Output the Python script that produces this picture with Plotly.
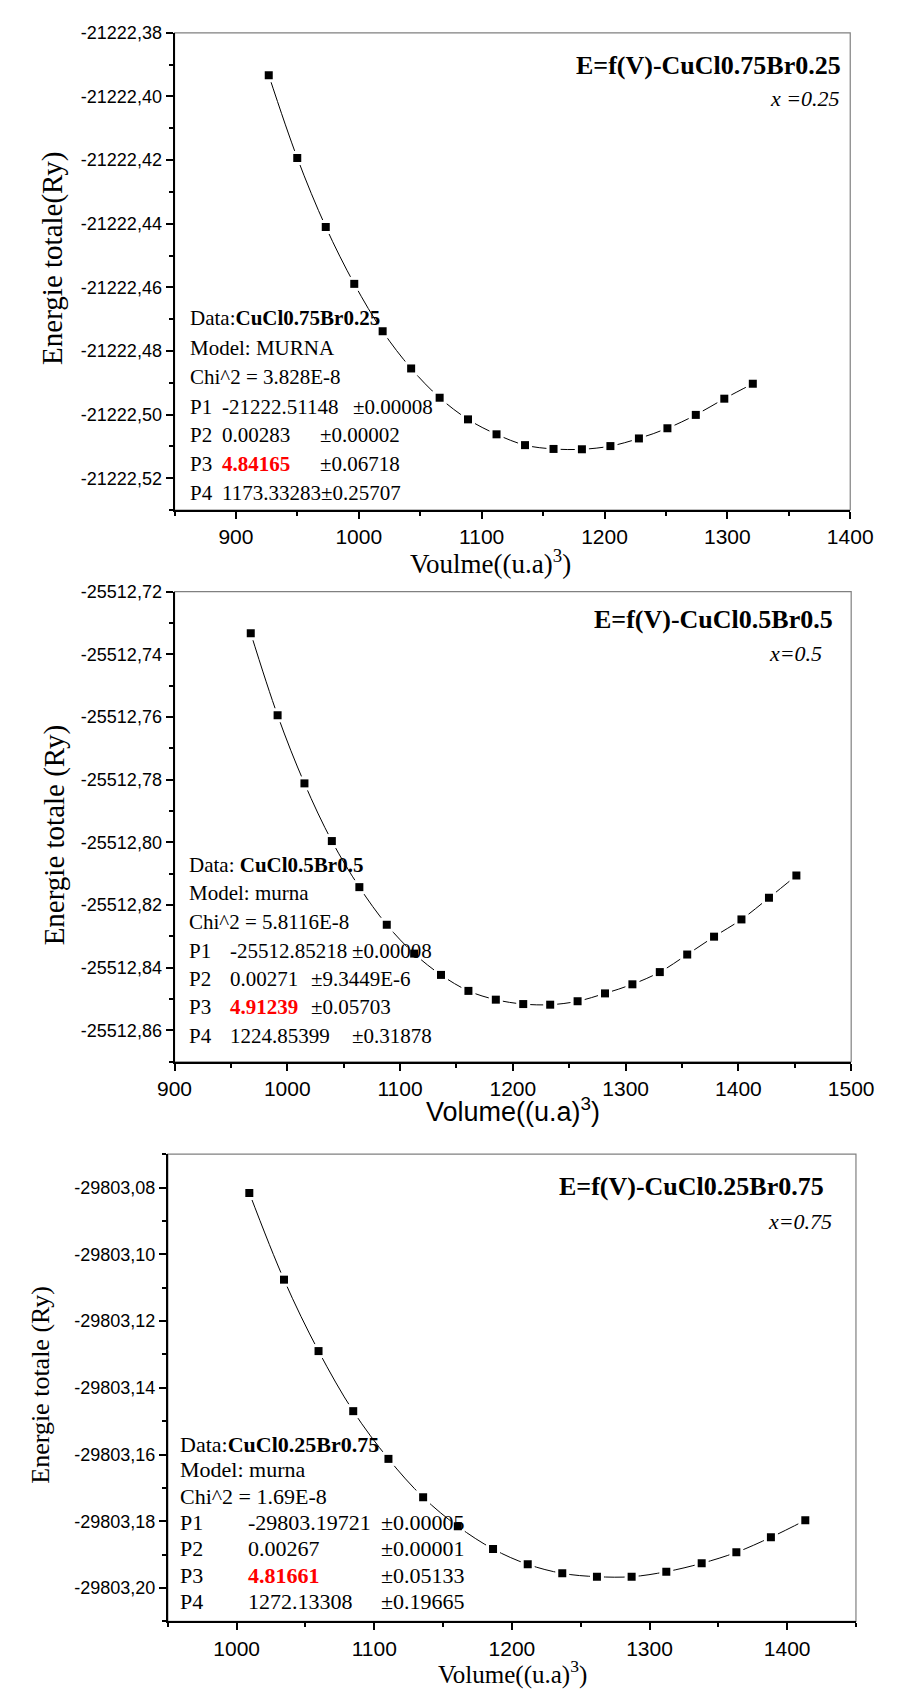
import plotly.graph_objects as go

# ---------------- data ----------------
vol_025 = [926.7, 949.9, 973.1, 996.3, 1019.4, 1042.6, 1065.8, 1088.9, 1112.1, 1135.3,
           1158.5, 1181.6, 1204.8, 1228.0, 1251.2, 1274.3, 1297.5, 1320.7]
E_025 = [-21222.3933, -21222.4193, -21222.4410, -21222.4589, -21222.4738, -21222.4855,
         -21222.4947, -21222.5015, -21222.5062, -21222.5096, -21222.5108, -21222.5109,
         -21222.5099, -21222.5075, -21222.5043, -21222.5001, -21222.4950, -21222.4903]

vol_05 = [967.6, 991.4, 1015.2, 1039.5, 1063.9, 1088.2, 1112.5, 1136.3, 1160.6, 1184.9,
          1209.2, 1233.1, 1257.4, 1281.7, 1306.0, 1330.3, 1354.6, 1378.4, 1402.7, 1427.1, 1451.4]
E_05 = [-25512.7333, -25512.7595, -25512.7812, -25512.7996, -25512.8143, -25512.8263,
        -25512.8355, -25512.8423, -25512.8474, -25512.8502, -25512.8516, -25512.8518,
        -25512.8507, -25512.8482, -25512.8453, -25512.8414, -25512.8358, -25512.8301,
        -25512.8246, -25512.8177, -25512.8106]

vol_075 = [1009.2, 1034.4, 1059.5, 1084.7, 1110.3, 1135.5, 1160.7, 1186.3, 1211.5, 1236.6,
           1261.8, 1287.0, 1312.2, 1337.9, 1363.1, 1388.2, 1413.2]
E_075 = [-29803.0816, -29803.1076, -29803.1290, -29803.1470, -29803.1613, -29803.1728,
         -29803.1815, -29803.1883, -29803.1929, -29803.1956, -29803.1966, -29803.1966,
         -29803.1951, -29803.1926, -29803.1893, -29803.1848, -29803.1797]

# tick values / labels
xt_025 = [900, 1000, 1100, 1200, 1300, 1400]
xm_025 = [850, 950, 1050, 1150, 1250, 1350]
yt_025 = [-21222.38, -21222.40, -21222.42, -21222.44, -21222.46, -21222.48, -21222.50, -21222.52]
ym_025 = [-21222.39, -21222.41, -21222.43, -21222.45, -21222.47, -21222.49, -21222.51, -21222.53]
yl_025 = ["-21222,38", "-21222,40", "-21222,42", "-21222,44", "-21222,46", "-21222,48", "-21222,50", "-21222,52"]

xt_05 = [900, 1000, 1100, 1200, 1300, 1400, 1500]
xm_05 = [950, 1050, 1150, 1250, 1350, 1450]
yt_05 = [-25512.72, -25512.74, -25512.76, -25512.78, -25512.80, -25512.82, -25512.84, -25512.86]
ym_05 = [-25512.73, -25512.75, -25512.77, -25512.79, -25512.81, -25512.83, -25512.85, -25512.87]
yl_05 = ["-25512,72", "-25512,74", "-25512,76", "-25512,78", "-25512,80", "-25512,82", "-25512,84", "-25512,86"]

xt_075 = [1000, 1100, 1200, 1300, 1400]
xm_075 = [950, 1050, 1150, 1250, 1350, 1450]
yt_075 = [-29803.08, -29803.10, -29803.12, -29803.14, -29803.16, -29803.18, -29803.20]
ym_075 = [-29803.07, -29803.09, -29803.11, -29803.13, -29803.15, -29803.17, -29803.19, -29803.21]
yl_075 = ["-29803,08", "-29803,10", "-29803,12", "-29803,14", "-29803,16", "-29803,18", "-29803,20"]

W, H = 899, 1689
def px(x):
    return x / W
def py(y):
    return 1 - y / H

SANS = "Liberation Sans, Arial, sans-serif"
SERIF = "Liberation Serif, Times New Roman, serif"

fig = go.Figure()

panels = [
    dict(vol=vol_025, E=E_025, xa="x", ya="y"),
    dict(vol=vol_05, E=E_05, xa="x2", ya="y2"),
    dict(vol=vol_075, E=E_075, xa="x3", ya="y3"),
]
for p in panels:
    fig.add_trace(go.Scatter(x=p["vol"], y=p["E"], mode="lines",
                             line=dict(color="black", width=1, shape="spline"),
                             xaxis=p["xa"], yaxis=p["ya"], showlegend=False, hoverinfo="skip"))
    fig.add_trace(go.Scatter(x=p["vol"], y=p["E"], mode="markers",
                             marker=dict(symbol="square", size=14, color="white"),
                             xaxis=p["xa"], yaxis=p["ya"], showlegend=False, hoverinfo="skip"))
    fig.add_trace(go.Scatter(x=p["vol"], y=p["E"], mode="markers",
                             marker=dict(symbol="square", size=8, color="black"),
                             xaxis=p["xa"], yaxis=p["ya"], showlegend=False))

def xaxis(domain, rng, tv, mv, anchor):
    return dict(domain=domain, range=rng, anchor=anchor, tickmode="array", tickvals=tv,
                ticktext=[str(v) for v in tv], ticks="outside", ticklen=7, tickwidth=1.5,
                tickcolor="black", showline=True, linecolor="black", linewidth=2,
                showgrid=False, zeroline=False,
                tickfont=dict(family=SANS, size=21, color="black"),
                minor=dict(tickmode="array", tickvals=mv, ticks="outside", ticklen=4,
                           tickwidth=1.5, tickcolor="black", showgrid=False))

def yaxis(domain, rng, tv, tl, mv, anchor):
    return dict(domain=domain, range=rng, anchor=anchor, tickmode="array", tickvals=tv,
                ticktext=tl, ticks="outside", ticklen=7, tickwidth=1.5,
                tickcolor="black", showline=True, linecolor="black", linewidth=2,
                showgrid=False, zeroline=False,
                tickfont=dict(family=SANS, size=18, color="black"),
                minor=dict(tickmode="array", tickvals=mv, ticks="outside", ticklen=4,
                           tickwidth=1.5, tickcolor="black", showgrid=False))

d1x = [px(164), px(872)]; d1y = [py(503), py(23)]
d2x = [px(164), px(873)]; d2y = [py(1058), py(585)]
d3x = [px(157), px(878)]; d3y = [py(1621), py(1151)]

fig.update_layout(
    width=W, height=H, margin=dict(l=0, r=0, t=0, b=0),
    paper_bgcolor="white", plot_bgcolor="white", showlegend=False,
    xaxis=xaxis(d1x, [850, 1400], xt_025, xm_025, "y"),
    yaxis=yaxis(d1y, [-21222.53, -21222.38], yt_025, yl_025, ym_025, "x"),
    xaxis2=xaxis(d2x, [900, 1500], xt_05, xm_05, "y2"),
    yaxis2=yaxis(d2y, [-25512.87, -25512.72], yt_05, yl_05, ym_05, "x2"),
    xaxis3=xaxis(d3x, [950, 1450], xt_075, xm_075, "y3"),
    yaxis3=yaxis(d3y, [-29803.21, -29803.07], yt_075, yl_075, ym_075, "x3"),
)

# grey frame (top/right)
for xr, yr in [("x", "y"), ("x2", "y2"), ("x3", "y3")]:
    fig.add_shape(type="rect", xref=xr + " domain", yref=yr + " domain", x0=0, x1=1, y0=0, y1=1,
                  line=dict(color="#808080", width=1.2), layer="below")

ann = []
def A(text, x, y, size=21, family=SERIF, xanchor="left", yanchor="middle", angle=0):
    ann.append(dict(text=text, x=px(x), y=py(y), xref="paper", yref="paper", showarrow=False,
                    xanchor=xanchor, yanchor=yanchor, textangle=angle,
                    font=dict(family=family, size=size, color="black")))

RED = "<span style='color:#ff0000'><b>%s</b></span>"

# ---- panel 1 ----
A("<b>E=f(V)-CuCl0.75Br0.25</b>", 864, 56, size=26, xanchor="right")
A("<i>x =0.25</i>", 863, 89, size=22, xanchor="right")
A("Energie totale(Ry)", 36, 250, size=29, xanchor="center", angle=-90)
A("Voulme((u.a)<sup>3</sup>)", 495, 555, size=27, xanchor="center")
r1 = [310, 340, 369, 399, 428, 457, 486]
A("Data:<b>CuCl0.75Br0.25</b>", 178, r1[0])
A("Model: MURNA", 178, r1[1])
A("Chi^2 = 3.828E-8", 178, r1[2])
A("P1", 178, r1[3]); A("-21222.51148", 212, r1[3]); A("±0.00008", 349, r1[3])
A("P2", 178, r1[4]); A("0.00283", 212, r1[4]); A("±0.00002", 314, r1[4])
A("P3", 178, r1[5]); A(RED % "4.84165", 212, r1[5]); A("±0.06718", 314, r1[5])
A("P4", 178, r1[6]); A("1173.33283±0.25707", 212, r1[6])

# ---- panel 2 ----
A("<b>E=f(V)-CuCl0.5Br0.5</b>", 856, 613, size=26, xanchor="right")
A("<i>x=0.5</i>", 844, 647, size=22, xanchor="right")
A("Energie totale (Ry)", 38, 830, size=29, xanchor="center", angle=-90)
A("Volume((u.a)<sup>3</sup>)", 519, 1107, size=27, family=SANS, xanchor="center")
r2 = [860, 888, 917, 947, 975, 1003, 1032]
A("Data: <b>CuCl0.5Br0.5</b>", 177, r2[0])
A("Model: murna", 177, r2[1])
A("Chi^2 = 5.8116E-8", 177, r2[2])
A("P1", 177, r2[3]); A("-25512.85218", 220, r2[3]); A("±0.00008", 348, r2[3])
A("P2", 177, r2[4]); A("0.00271", 220, r2[4]); A("±9.3449E-6", 305, r2[4])
A("P3", 177, r2[5]); A(RED % "4.91239", 220, r2[5]); A("±0.05703", 305, r2[5])
A("P4", 177, r2[6]); A("1224.85399", 220, r2[6]); A("±0.31878", 348, r2[6])

# ---- panel 3 ----
A("<b>E=f(V)-CuCl0.25Br0.75</b>", 847, 1184, size=26, xanchor="right")
A("<i>x=0.75</i>", 855, 1219, size=22, xanchor="right")
A("Energie totale (Ry)", 24, 1383, size=26, xanchor="center", angle=-90)
A("Volume((u.a)<sup>3</sup>)", 518, 1672, size=25, xanchor="center")
r3 = [1443, 1468, 1495, 1522, 1548, 1575, 1601]
A("Data:<b>CuCl0.25Br0.75</b>", 168, r3[0], size=22)
A("Model: murna", 168, r3[1], size=22)
A("Chi^2 = 1.69E-8", 168, r3[2], size=22)
A("P1", 168, r3[3], size=22); A("-29803.19721", 239, r3[3], size=22); A("±0.00005", 378, r3[3], size=22)
A("P2", 168, r3[4], size=22); A("0.00267", 239, r3[4], size=22); A("±0.00001", 378, r3[4], size=22)
A("P3", 168, r3[5], size=22); A(RED % "4.81661", 239, r3[5], size=22); A("±0.05133", 378, r3[5], size=22)
A("P4", 168, r3[6], size=22); A("1272.13308", 239, r3[6], size=22); A("±0.19665", 378, r3[6], size=22)

fig.update_layout(annotations=ann)
fig.write_html("out.html")
